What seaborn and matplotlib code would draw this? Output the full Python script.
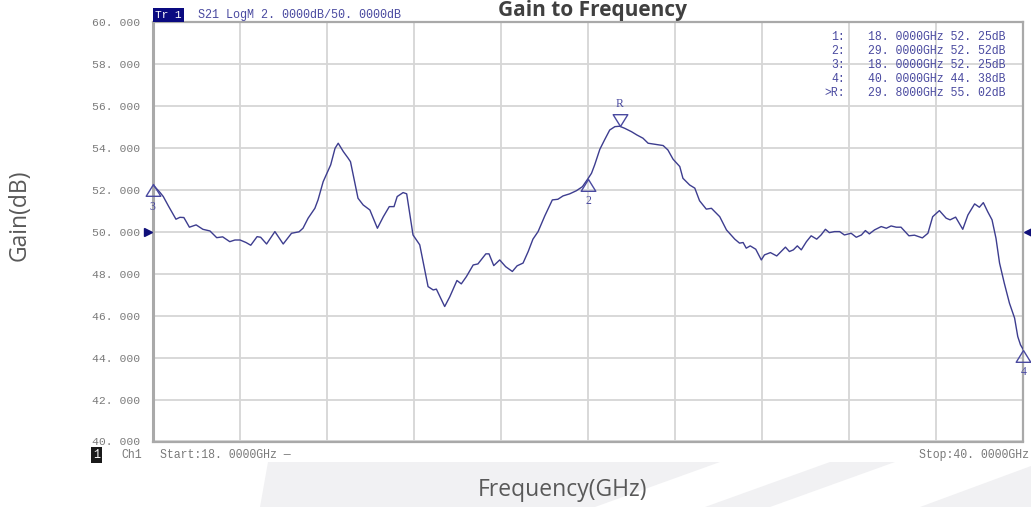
import numpy as np
import pandas as pd
import matplotlib
matplotlib.use("Agg")
import matplotlib.pyplot as plt
import matplotlib.transforms as mtransforms
from matplotlib.path import Path
from matplotlib.patches import Polygon
import seaborn as sns

# trace (S21, 18-40 GHz)
freq_ghz = [
    18.00, 18.19, 18.27, 18.40, 18.59, 18.69, 18.79, 18.93, 19.10, 19.27,
    19.45, 19.62, 19.77, 19.95, 20.08, 20.21, 20.36, 20.48, 20.64, 20.73,
    20.88, 21.09, 21.30, 21.51, 21.70, 21.80, 21.93, 22.10, 22.18, 22.31,
    22.50, 22.61, 22.69, 22.82, 22.94, 23.00, 23.19, 23.32, 23.49, 23.68,
    23.83, 23.98, 24.10, 24.18, 24.33, 24.42, 24.58, 24.75, 24.96, 25.09,
    25.17, 25.38, 25.51, 25.69, 25.80, 25.93, 26.10, 26.22, 26.42, 26.50,
    26.62, 26.77, 26.92, 27.09, 27.21, 27.36, 27.49, 27.61, 27.74, 27.91,
    28.10, 28.24, 28.37, 28.54, 28.71, 28.86, 29.00, 29.09, 29.17, 29.30,
    29.42, 29.55, 29.68, 29.80, 29.93, 30.10, 30.24, 30.39, 30.52, 30.69,
    30.90, 31.02, 31.15, 31.32, 31.40, 31.57, 31.70, 31.82, 31.99, 32.12,
    32.33, 32.50, 32.71, 32.83, 32.92, 33.00, 33.10, 33.24, 33.38, 33.46,
    33.61, 33.77, 33.99, 34.09, 34.19, 34.29, 34.39, 34.52, 34.64, 34.78,
    34.89, 35.00, 35.10, 35.23, 35.36, 35.48, 35.65, 35.78, 35.91, 36.01,
    36.11, 36.24, 36.41, 36.54, 36.66, 36.79, 36.91, 37.11, 37.25, 37.45,
    37.59, 37.71, 37.88, 38.05, 38.15, 38.29, 38.47, 38.60, 38.77, 38.89,
    38.99, 39.10, 39.21, 39.31, 39.40, 39.52, 39.65, 39.78, 39.86, 39.93,
    40.00,
]
gain_db = [
    52.25, 51.86, 51.67, 51.22, 50.59, 50.68, 50.67, 50.21, 50.32, 50.11,
    50.03, 49.71, 49.75, 49.52, 49.60, 49.60, 49.48, 49.35, 49.76, 49.73,
    49.41, 50.00, 49.41, 49.92, 49.99, 50.16, 50.64, 51.11, 51.51, 52.38,
    53.18, 53.97, 54.21, 53.81, 53.50, 53.33, 51.59, 51.27, 51.03, 50.16,
    50.71, 51.19, 51.19, 51.67, 51.86, 51.80, 49.84, 49.37, 47.38, 47.22,
    47.26, 46.43, 46.90, 47.67, 47.51, 47.86, 48.41, 48.46, 48.94, 48.94,
    48.38, 48.65, 48.33, 48.10, 48.37, 48.50, 49.05, 49.64, 50.00, 50.75,
    51.51, 51.54, 51.70, 51.80, 51.95, 52.14, 52.52, 52.78, 53.18, 53.92,
    54.37, 54.84, 55.00, 55.02, 54.92, 54.76, 54.60, 54.45, 54.21, 54.16,
    54.10, 53.89, 53.45, 53.10, 52.54, 52.22, 52.07, 51.47, 51.07, 51.11,
    50.71, 50.08, 49.64, 49.45, 49.48, 49.21, 49.32, 49.16, 48.65, 48.89,
    49.00, 48.84, 49.26, 49.05, 49.13, 49.32, 49.13, 49.52, 49.80, 49.64,
    49.84, 50.11, 49.95, 50.00, 50.00, 49.84, 49.92, 49.73, 49.84, 50.05,
    49.89, 50.08, 50.24, 50.16, 50.27, 50.21, 50.21, 49.80, 49.83, 49.70,
    49.92, 50.71, 51.00, 50.64, 50.56, 50.69, 50.11, 50.79, 51.32, 51.16,
    51.38, 50.95, 50.56, 49.68, 48.50, 47.54, 46.59, 45.88, 45.00, 44.60,
    44.38,
]

marker_names = ["1", "2", "3", "4", "R"]
marker_freq = [18.0, 29.0, 18.0, 40.0, 29.8]
marker_gain = [52.25, 52.52, 52.25, 44.38, 55.02]

start_ghz, stop_ghz = 18.0, 40.0
ref_level = 50.0
scale_db = 2.0
y_ticks = np.arange(40, 61, 2)

trace_col = "#3d3d8f"
mk_col = "#4a4aa0"
txt_grey = "#7a7a7a"

W, H = 1031, 507
sns.set_style("white")
plt.rcParams["font.family"] = ["Open Sans", "DejaVu Sans"]
mono = "Liberation Mono"

fig = plt.figure(figsize=(W / 100, H / 100), dpi=100)

# light decorative band along the bottom
def px_poly(pts, **kw):
    return Polygon([(x / W, 1 - y / H) for x, y in pts], closed=True,
                   transform=fig.transFigure, **kw)

band = "#f1f1f3"
for pts in [
    [(268, 462), (720, 462), (595, 507), (260, 507)],
    [(830, 462), (895, 462), (770, 507), (705, 507)],
    [(1031, 466), (1031, 507), (920, 507)],
]:
    fig.patches.append(px_poly(pts, facecolor=band, edgecolor="none", zorder=0))

ax = fig.add_axes([152.6 / W, 1 - 441.5 / H, (1023.3 - 152.6) / W, (441.5 - 21.7) / H])
ax.set_facecolor("white")

df = pd.DataFrame({"freq": freq_ghz, "gain": gain_db})
sns.lineplot(data=df, x="freq", y="gain", ax=ax, color=trace_col, lw=1.0,
             sort=False, estimator=None, zorder=3)

ax.set_xlim(start_ghz, stop_ghz)
ax.set_ylim(y_ticks[0], y_ticks[-1])
ax.set_xticks(np.linspace(start_ghz, stop_ghz, 11))
ax.set_xticklabels([])
ax.set_yticks(y_ticks)
ax.set_yticklabels([f"{v:.3f}".replace(".", ". ") for v in y_ticks],
                   family=mono, fontsize=8.2, color=txt_grey)
ax.tick_params(length=0, pad=9)
ax.grid(True, color="#d6d6d6", lw=1.3)
ax.set_xlabel("")
ax.set_ylabel("")
for s in ax.spines.values():
    s.set_color("#a9a9a9")
    s.set_linewidth(1.6)
ax.spines["left"].set_linewidth(2.2)

# marker triangles, apex on the trace
up_tri = Path([(0, 0), (-0.62, -1), (0.62, -1), (0, 0)],
              [Path.MOVETO, Path.LINETO, Path.LINETO, Path.CLOSEPOLY])
down_tri = Path([(0, 0), (-0.62, 1), (0.62, 1), (0, 0)],
                [Path.MOVETO, Path.LINETO, Path.LINETO, Path.CLOSEPOLY])
for name, f, g in zip(marker_names, marker_freq, marker_gain):
    if name == "1":
        continue  # sits under marker 3
    tri = down_tri if name == "R" else up_tri
    ax.plot([f], [g], marker=tri, ms=17, mfc="none", mec=mk_col, mew=1.0,
            ls="none", clip_on=False, zorder=4)
    dy = 16 if name == "R" else -16
    ax.annotate(name, (f, g), xytext=(0, dy), textcoords="offset points",
                ha="center", va="center", family="Liberation Serif",
                fontsize=8.5, color=mk_col, annotation_clip=False, zorder=5)

# reference level arrows on both sides
left_off = mtransforms.offset_copy(ax.transData, fig=fig, x=-5, y=0, units="dots")
right_off = mtransforms.offset_copy(ax.transData, fig=fig, x=5, y=0, units="dots")
ax.plot([start_ghz], [ref_level], marker=">", ms=6, color="#10107a",
        transform=left_off, clip_on=False, zorder=5)
ax.plot([stop_ghz], [ref_level], marker="<", ms=6, color="#10107a",
        transform=right_off, clip_on=False, zorder=5)

# marker readout table
for i, (name, f, g) in enumerate(zip(marker_names, marker_freq, marker_gain)):
    yy = 1 - (37 + 14 * i) / H
    lab = (">" if name == "R" else "") + name + ":"
    fig.text(845 / W, yy, lab, ha="right", va="center", family=mono,
             fontsize=8.3, color=mk_col, zorder=6)
    val = f"{f:.4f}GHz {g:.2f}dB".replace(".", ". ")
    fig.text(868 / W, yy, val, ha="left", va="center", family=mono,
             fontsize=8.3, color=mk_col, zorder=6)

# instrument header
fig.text(155 / W, 1 - 15 / H, "Tr 1", ha="left", va="center", family=mono,
         fontsize=8, color="white",
         bbox=dict(boxstyle="square,pad=0.2", fc="#0a0a80", ec="none"))
fig.text(198 / W, 1 - 15 / H,
         f"S21 LogM {scale_db:.4f}dB/{ref_level:.4f}dB".replace(".", ". "),
         ha="left", va="center", family=mono, fontsize=8.5, color=mk_col)

# channel footer
fig.text(93 / W, 1 - 455 / H, "1", ha="left", va="center", family=mono, fontsize=8.5,
         color="white", bbox=dict(boxstyle="square,pad=0.15", fc="#1a1a1a", ec="none"))
fig.text(121 / W, 1 - 455 / H, "Ch1", ha="left", va="center", family=mono,
         fontsize=8.3, color=txt_grey)
fig.text(160 / W, 1 - 455 / H, f"Start:{start_ghz:.4f}GHz —".replace(".", ". "),
         ha="left", va="center", family=mono, fontsize=8.3, color=txt_grey)
fig.text(1029 / W, 1 - 455 / H, f"Stop:{stop_ghz:.4f}GHz".replace(".", ". "),
         ha="right", va="center", family=mono, fontsize=8.3, color=txt_grey)

# slide-style labels
fig.text(592 / W, 1 - 16 / H, "Gain to Frequency", ha="center", va="baseline",
         fontsize=15, weight="bold", color="#404040")
fig.text(20 / W, 1 - 215 / H, "Gain(dB)", rotation=90, ha="center", va="center",
         fontsize=16.5, color="#595959")
fig.text(562 / W, 1 - 490 / H, "Frequency(GHz)", ha="center", va="center",
         fontsize=16.5, color="#595959")

fig.savefig("out.png", dpi=100)
